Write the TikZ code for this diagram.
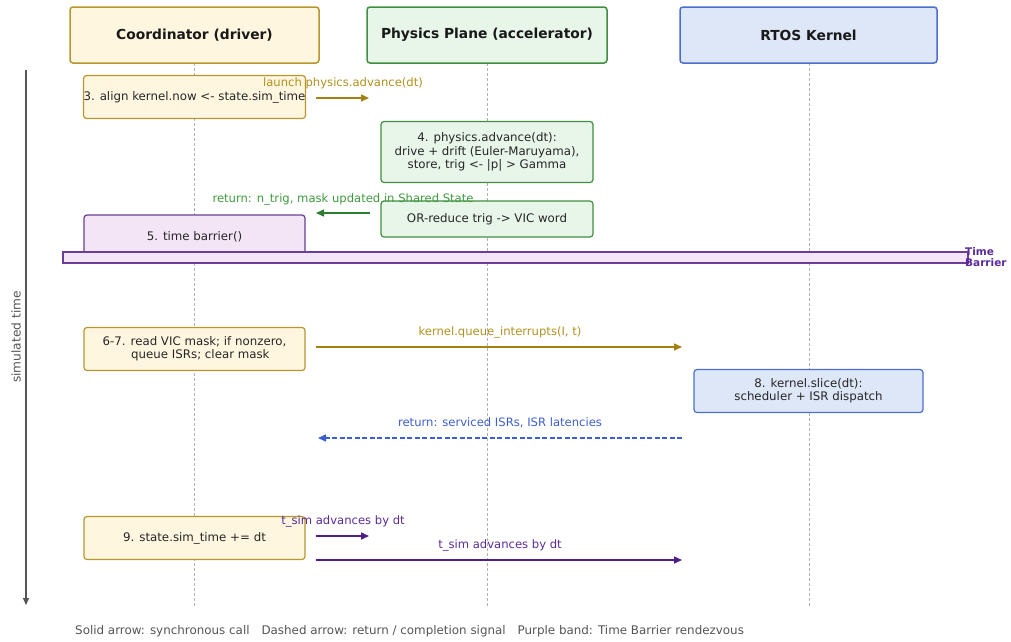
\documentclass[tikz,border=0pt]{standalone}
\usepackage{fontspec}
\setmainfont{DejaVu Sans}
\usetikzlibrary{arrows.meta}
\definecolor{goldB}{HTML}{B8962E}
\definecolor{goldF}{HTML}{FFF6E0}
\definecolor{goldA}{HTML}{A47F12}
\definecolor{goldT}{HTML}{B0901E}
\definecolor{grnB}{HTML}{3F8F3F}
\definecolor{grnF}{HTML}{E8F5E9}
\definecolor{grnA}{HTML}{2E7D32}
\definecolor{grnT}{HTML}{3E9A3E}
\definecolor{bluB}{HTML}{4A6FD0}
\definecolor{bluF}{HTML}{DDE7F8}
\definecolor{bluA}{HTML}{3B5FD0}
\definecolor{purB}{HTML}{6A3D9A}
\definecolor{purF}{HTML}{F3E5F5}
\definecolor{purA}{HTML}{4B1E8C}
\definecolor{purT}{HTML}{5B2A9A}
\definecolor{lifeC}{HTML}{B0B0B0}
\definecolor{axisC}{HTML}{555555}
\definecolor{footC}{HTML}{555555}
\tikzset{
  box/.style={draw, rounded corners=3pt, line width=1.2pt, inner sep=0pt, align=center, font=\fontsize{11.8}{13.4}\selectfont, text=black!85},
  hdr/.style={box, line width=1.5pt, font=\fontsize{13.8}{16}\selectfont\bfseries, text=black!90},
  coord/.style={draw=goldB, fill=goldF},
  phys/.style={draw=grnB, fill=grnF},
  rtos/.style={draw=bluB, fill=bluF},
  barr/.style={draw=purB, fill=purF},
  life/.style={draw=lifeC, dash pattern=on 3pt off 2pt, line width=0.8pt},
  msg/.style={line width=1.5pt, -{Triangle[length=8pt,width=7pt]}},
  lbl/.style={font=\fontsize{11.6}{13}\selectfont, inner sep=0pt},
}
\begin{document}
\begin{tikzpicture}[x=1pt,y=-1pt]
\useasboundingbox (0,0) rectangle (1011,641);
% lifelines
\coordinate (l1t) at (194,63); \coordinate (l1b) at (194,607);
\coordinate (l2t) at (487,63); \coordinate (l2b) at (487,607);
\coordinate (l3t) at (809,63); \coordinate (l3b) at (809,607);
\draw[life] (l1t) -- (l1b);
\draw[life] (l2t) -- (l2b);
\draw[life] (l3t) -- (l3b);
% headers
\node[hdr, coord, minimum width=249pt, minimum height=56pt] (hc) at (194.5,35) {Coordinator (driver)};
\node[hdr, phys, minimum width=240pt, minimum height=56pt] (hp) at (487,35) {Physics Plane (accelerator)};
\node[hdr, rtos, minimum width=257pt, minimum height=56pt] (hr) at (808.5,35) {RTOS Kernel};
% time axis
\coordinate (at) at (26,70); \coordinate (ab) at (26,605);
\draw[axisC, line width=1.3pt, -{Triangle[length=7pt,width=6pt]}] (at) -- (ab);
\node[lbl, text=axisC, rotate=90, font=\fontsize{12.2}{14}\selectfont] (axl) at (16,337) {simulated time};
% step 3
\node[box, coord, minimum width=221pt, minimum height=43pt] (s3) at (194.5,97) {3. align kernel.now <- state.sim\_time};
\coordinate (a1s) at (316,98); \coordinate (a1e) at (369,98);
\draw[msg, goldA] (a1s) -- (a1e);
\node[lbl, text=goldT] (a1l) at (343,83) {launch physics.advance(dt)};
% step 4
\node[box, phys, minimum width=212pt, minimum height=61pt] (s4) at (487,152) {4. physics.advance(dt):\\drive + drift (Euler-Maruyama),\\store, trig <- |p| > Gamma};
\node[box, phys, minimum width=212pt, minimum height=36pt] (s4b) at (487,219) {OR-reduce trig -> VIC word};
\coordinate (a2s) at (370,213); \coordinate (a2e) at (316,213);
\draw[msg, grnA] (a2s) -- (a2e);
\node[lbl, text=grnT] (a2l) at (343,199) {return: n\_trig, mask updated in Shared State};
% step 5
\node[box, barr, minimum width=221pt, minimum height=44pt] (s5) at (194.5,237) {5. time barrier()};
% barrier band
\node[barr, line width=1.2pt, minimum width=905pt, minimum height=11pt, inner sep=0pt] (band) at (515.5,257.5) {};
\node[text=purT, font=\fontsize{10.5}{11}\selectfont\bfseries, align=left, anchor=west, inner sep=0pt] (bandl) at (965,257.5) {Time\\Barrier};
% step 6-7
\node[box, coord, minimum width=221pt, minimum height=43pt] (s6) at (194.5,349) {6-7. read VIC mask; if nonzero,\\\quad queue ISRs; clear mask};
\coordinate (a3s) at (316,347); \coordinate (a3e) at (682,347);
\draw[msg, goldA] (a3s) -- (a3e);
\node[lbl, text=goldT] (a3l) at (500,332) {kernel.queue\_interrupts(I, t)};
% step 8
\node[box, rtos, minimum width=229pt, minimum height=43pt] (s8) at (808.5,391) {8. kernel.slice(dt):\\scheduler + ISR dispatch};
\coordinate (a4s) at (682,438); \coordinate (a4e) at (318,438);
\draw[msg, bluA, dash pattern=on 5pt off 2.5pt] (a4s) -- (a4e);
\node[lbl, text=bluA] (a4l) at (500,423) {return: serviced ISRs, ISR latencies};
% step 9
\node[box, coord, minimum width=221pt, minimum height=43pt] (s9) at (194.5,538) {9. state.sim\_time += dt};
\coordinate (a5s) at (316,536); \coordinate (a5e) at (369,536);
\draw[msg, purA] (a5s) -- (a5e);
\node[lbl, text=purT] (a5l) at (343,521) {t\_sim advances by dt};
\coordinate (a6s) at (316,560); \coordinate (a6e) at (682,560);
\draw[msg, purA] (a6s) -- (a6e);
\node[lbl, text=purT] (a6l) at (500,545) {t\_sim advances by dt};
% footer
\node[lbl, text=footC, anchor=west, font=\fontsize{11.9}{13}\selectfont] (foot) at (75,631) {Solid arrow: synchronous call\quad Dashed arrow: return / completion signal\quad Purple band: Time Barrier rendezvous};
\end{tikzpicture}
\end{document}
